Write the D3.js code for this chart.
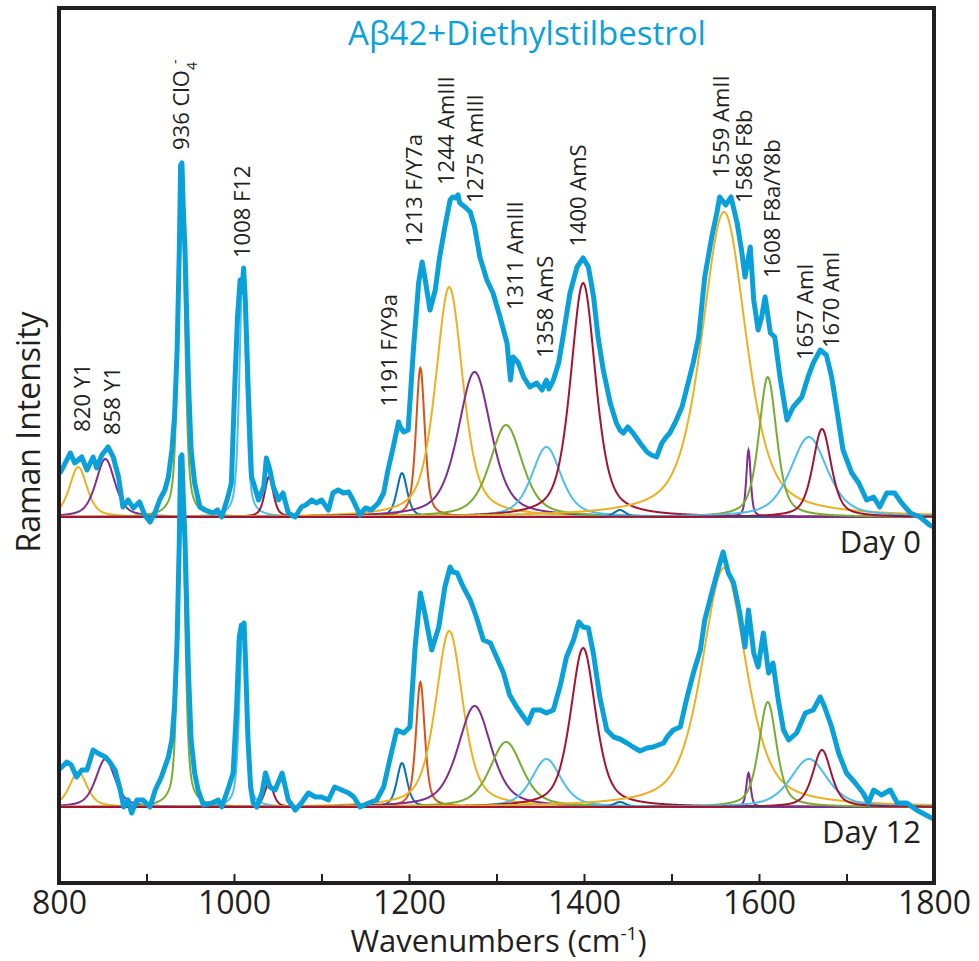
<!DOCTYPE html>
<html><head><meta charset="utf-8">
<script src="https://cdn.jsdelivr.net/npm/d3@7"></script>
<style>
html,body{margin:0;padding:0;background:#fff;}
svg{display:block;font-family:"Open Sans",sans-serif;}
</style></head>
<body>
<svg id="chart" width="979" height="961"></svg>
<script>
// ---------- DATA ----------
const chartTitle = "Aβ42+Diethylstilbestrol";
const xTickMajor = [800, 1000, 1200, 1400, 1600, 1800];
const xTickMinor = [900, 1100, 1300, 1500, 1700];
const dayNames = ["Day 0", "Day 12"];
const dayOffsets = [2900, 0];          // vertical stacking offset (a.u.)

// Measured spectra: [wavenumber, intensity (a.u.)]
const day0Spectrum = [[802,450],[806,520],[813,640],[818,540],[826,600],[832,470],[839,600],[843,490],[849,620],[856,700],[862,600],[868,400],[873,100],[879,170],[885,90],[892,150],[898,20],[904,-50],[910,50],[915,170],[921,270],[925,400],[929,670],[932,1000],[935,1670],[937.5,2670],[939,3520],[940.5,3540],[942,3100],[944,2670],[948,1340],[951,670],[955,340],[961,100],[967,70],[976,40],[981,70],[986,0],[993,200],[997,340],[1001,1340],[1004,2000],[1007,2370],[1009,2250],[1011,2490],[1013,2150],[1016,1340],[1020,400],[1022,350],[1028,170],[1034,300],[1037,590],[1041,470],[1045,300],[1051,170],[1056,240],[1062,40],[1070,0],[1077,100],[1082,120],[1089,170],[1094,140],[1100,170],[1108,70],[1113,240],[1119,270],[1125,240],[1131,250],[1136,170],[1144,20],[1150,90],[1157,70],[1165,140],[1171,240],[1176,470],[1182,700],[1188,950],[1190,900],[1194,850],[1199,870],[1205,1670],[1211,2340],[1215,2550],[1218,2400],[1224,2070],[1230,2270],[1235,2600],[1241,2900],[1247,3170],[1250,3200],[1253,3190],[1256,3220],[1258,3140],[1264,3100],[1270,3050],[1275,2900],[1281,2600],[1289,2370],[1296,2240],[1304,2000],[1312,1740],[1316,1370],[1319,1600],[1325,1540],[1331,1400],[1338,1300],[1346,1340],[1352,1270],[1357,1370],[1360,1280],[1365,1370],[1371,1540],[1376,1800],[1384,2240],[1392,2500],[1399,2590],[1405,2500],[1411,2200],[1416,1800],[1422,1470],[1430,1140],[1437,940],[1441,870],[1445,840],[1450,900],[1456,840],[1464,740],[1472,650],[1477,620],[1483,600],[1489,740],[1494,800],[1498,840],[1504,940],[1512,1100],[1519,1340],[1525,1550],[1531,1800],[1538,2400],[1546,2800],[1552,3050],[1555,3200],[1562,3120],[1568,3200],[1575,2940],[1580,2670],[1584,2400],[1590,2700],[1594,2170],[1599,1870],[1603,2000],[1607,2200],[1613,1840],[1618,1800],[1624,1400],[1632,970],[1639,1100],[1649,1200],[1656,1400],[1662,1540],[1670,1670],[1677,1620],[1683,1400],[1689,1070],[1696,670],[1706,440],[1714,340],[1723,170],[1731,200],[1738,100],[1746,240],[1755,240],[1763,140],[1773,40],[1784,0],[1795,-80],[1800,-100]];

const day12Spectrum = [[802,390],[809,450],[814,420],[820,300],[826,370],[832,370],[839,570],[844,540],[853,500],[858,450],[864,370],[870,170],[874,0],[879,70],[883,-60],[889,70],[896,70],[904,0],[910,170],[917,300],[925,500],[929,670],[932,1000],[935,1670],[937.5,2670],[939,3500],[940.5,3520],[942,3100],[944,2670],[948,1340],[951,670],[955,340],[959,170],[965,20],[975,40],[982,70],[986,0],[994,200],[999,340],[1003,1000],[1006,1700],[1008.5,1820],[1010,1700],[1011.5,1840],[1013,1500],[1016,670],[1019,200],[1022,40],[1026,0],[1032,140],[1036,340],[1041,200],[1047,170],[1055,340],[1062,70],[1070,-30],[1077,40],[1085,140],[1093,100],[1100,100],[1108,70],[1115,200],[1123,170],[1131,140],[1137,100],[1144,0],[1154,40],[1163,70],[1171,200],[1178,470],[1186,770],[1194,740],[1201,800],[1207,1600],[1213,2140],[1218,1940],[1226,1570],[1234,1800],[1241,2200],[1247,2400],[1250,2350],[1255,2340],[1262,2200],[1270,2070],[1277,1900],[1285,1670],[1293,1640],[1300,1500],[1308,1340],[1315,1120],[1323,1000],[1331,900],[1336,840],[1342,970],[1350,970],[1357,940],[1365,970],[1373,1220],[1380,1500],[1388,1670],[1394,1850],[1399,1800],[1405,1790],[1411,1520],[1418,1100],[1426,770],[1434,700],[1441,680],[1449,640],[1456,600],[1464,560],[1472,590],[1479,600],[1491,640],[1495,700],[1502,770],[1510,800],[1517,1070],[1525,1340],[1533,1570],[1538,1870],[1546,2140],[1554,2400],[1559,2550],[1565,2340],[1571,2240],[1578,1940],[1584,1600],[1588,1970],[1594,1540],[1599,1400],[1605,1740],[1611,1340],[1616,1440],[1622,1070],[1628,770],[1634,670],[1643,740],[1653,940],[1662,970],[1670,1100],[1675,1000],[1683,800],[1691,540],[1700,340],[1710,240],[1719,140],[1725,40],[1731,170],[1740,120],[1750,170],[1758,40],[1769,40],[1780,-30],[1795,-100],[1800,-120]];

// Fitted bands
const bandCenters = [822, 853, 940, 1010, 1040, 1192, 1213, 1246, 1275, 1311, 1357, 1399, 1441, 1560, 1588, 1610, 1657, 1672];
const bandFwhm    = [24, 26, 9, 9, 12, 14, 12, 37, 45, 44, 40, 34, 16, 60, 6, 24, 50, 25];
const day0Heights = [500, 580, 3540, 2450, 400, 440, 1490, 2300, 1450, 920, 700, 2340, 70, 3050, 670, 1400, 800, 880];
const day12Heights= [350, 480, 3520, 1800, 240, 440, 1250, 1760, 1010, 650, 480, 1590, 50, 2390, 340, 1050, 480, 570];

// Band annotation labels
const labelTexts   = ["820 Y1","858 Y1","936 ClO","1008 F12","1191 F/Y9a","1213 F/Y7a","1244 AmIII","1275 AmIII","1311 AmIII","1358 AmS","1400 AmS","1559 AmII","1586 F8b","1608 F8a/Y8b","1657 AmI","1670 AmI"];
const labelWn      = [826, 861, 939, 1009, 1177, 1206, 1242, 1276, 1321, 1355, 1393, 1557, 1583, 1615, 1653, 1682];
const labelHeights = [853, 820, 3670, 2590, 1103, 2703, 3320, 3140, 2070, 1590, 2703, 3390, 3140, 2390, 1570, 1690];

// ---------- STYLE ----------
const C = {yel:"#EDB120", pur:"#7E2F8E", grn:"#77AC30", lbl:"#4DBEEE", red:"#A2142F", blu:"#0072BD", org:"#D95319"};
const bandColors = [C.yel, C.pur, C.grn, C.lbl, C.red, C.blu, C.org, C.yel, C.pur, C.grn, C.lbl, C.red, C.blu, C.yel, C.pur, C.grn, C.lbl, C.red];
const spectrumColor = "#0AA1DB";
const inkColor = "#231F20";

// ---------- CHART ----------
const svg = d3.select("#chart");
const x = d3.scaleLinear().domain([800, 1800]).range([59, 934]);
const y = d3.scaleLinear().domain([-760, 7990]).range([883, 8]);

svg.append("defs").append("clipPath").attr("id","clip")
  .append("rect").attr("x", x.range()[0]).attr("y", y.range()[1])
  .attr("width", x.range()[1]-x.range()[0]).attr("height", y.range()[0]-y.range()[1]);

const plot = svg.append("g").attr("clip-path","url(#clip)");

function pv(wn, c, fw, h) {
  const t = (wn - c) / (fw / 2);
  const L = 1 / (1 + t * t);
  const G = Math.exp(-Math.LN2 * t * t);
  return h * (0.55 * L + 0.45 * G);
}
const grid = d3.range(800, 1800.01, 0.5);

const heightsByDay = [day0Heights, day12Heights];
const spectra = [day0Spectrum, day12Spectrum];

dayOffsets.forEach((off, d) => {
  const g = plot.append("g");
  const line = d3.line().x(p => x(p[0])).y(p => y(p[1] + off));
  bandCenters.forEach((c, i) => {
    const pts = grid.map(w => [w, pv(w, c, bandFwhm[i], heightsByDay[d][i])]);
    g.append("path").attr("d", line(pts)).attr("fill","none")
      .attr("stroke", bandColors[i]).attr("stroke-width", 2);
  });
  g.append("path").attr("d", line(spectra[d])).attr("fill","none")
    .attr("stroke", spectrumColor).attr("stroke-width", 5)
    .attr("stroke-linejoin","round").attr("stroke-linecap","round");
});

// frame
svg.append("rect").attr("x", x.range()[0]).attr("y", y.range()[1])
  .attr("width", x.range()[1]-x.range()[0]).attr("height", y.range()[0]-y.range()[1])
  .attr("fill","none").attr("stroke", inkColor).attr("stroke-width", 4);

// axes
const axMaj = svg.append("g").attr("transform", `translate(0,${y.range()[0]})`)
  .call(d3.axisBottom(x).tickValues(xTickMajor).tickSize(-9).tickPadding(8).tickFormat(d3.format("d")));
const axMin = svg.append("g").attr("transform", `translate(0,${y.range()[0]})`)
  .call(d3.axisBottom(x).tickValues(xTickMinor).tickSize(-9).tickFormat(""));
[axMaj, axMin].forEach(a => {
  a.select(".domain").remove();
  a.selectAll(".tick line").attr("stroke", inkColor).attr("stroke-width", 2);
  a.selectAll(".tick text").attr("fill", inkColor).style("font-size","32px")
    .style("font-family","'Open Sans',sans-serif");
});

// axis titles
const xt = svg.append("text").attr("x", (x.range()[0]+x.range()[1])/2 + 2).attr("y", 952)
  .attr("text-anchor","middle").attr("fill", inkColor).style("font-size","31px");
xt.append("tspan").text("Wavenumbers (cm");
xt.append("tspan").text("-1").style("font-size","19px").attr("dy","-12");
xt.append("tspan").text(")").attr("dy","12");

svg.append("text").attr("transform","translate(40,432) rotate(-90)")
  .attr("text-anchor","middle").attr("fill", inkColor).style("font-size","32px")
  .text("Raman Intensity");

// title
svg.append("text").attr("x", 527).attr("y", 45).attr("text-anchor","middle")
  .attr("fill", spectrumColor).style("font-size","33px").text(chartTitle);

// day labels
dayNames.forEach((n, d) => {
  svg.append("text").attr("x", x(1785)).attr("y", y(dayOffsets[d]) + 36)
    .attr("text-anchor","end").attr("fill", inkColor).style("font-size","31px").text(n);
});

// band labels
labelTexts.forEach((t, i) => {
  const tx = svg.append("text")
    .attr("transform", `translate(${x(labelWn[i])},${y(labelHeights[i] + dayOffsets[0])}) rotate(-90)`)
    .attr("dy","0.36em").attr("fill", inkColor).style("font-size","22px");
  tx.append("tspan").text(t);
  if (t.indexOf("ClO") >= 0) {
    tx.append("tspan").text("4").style("font-size","14px").attr("dy","8");
    tx.append("tspan").text("-").style("font-size","14px").attr("dy","-17").attr("dx","-2");
  }
});
</script>
</body></html>
